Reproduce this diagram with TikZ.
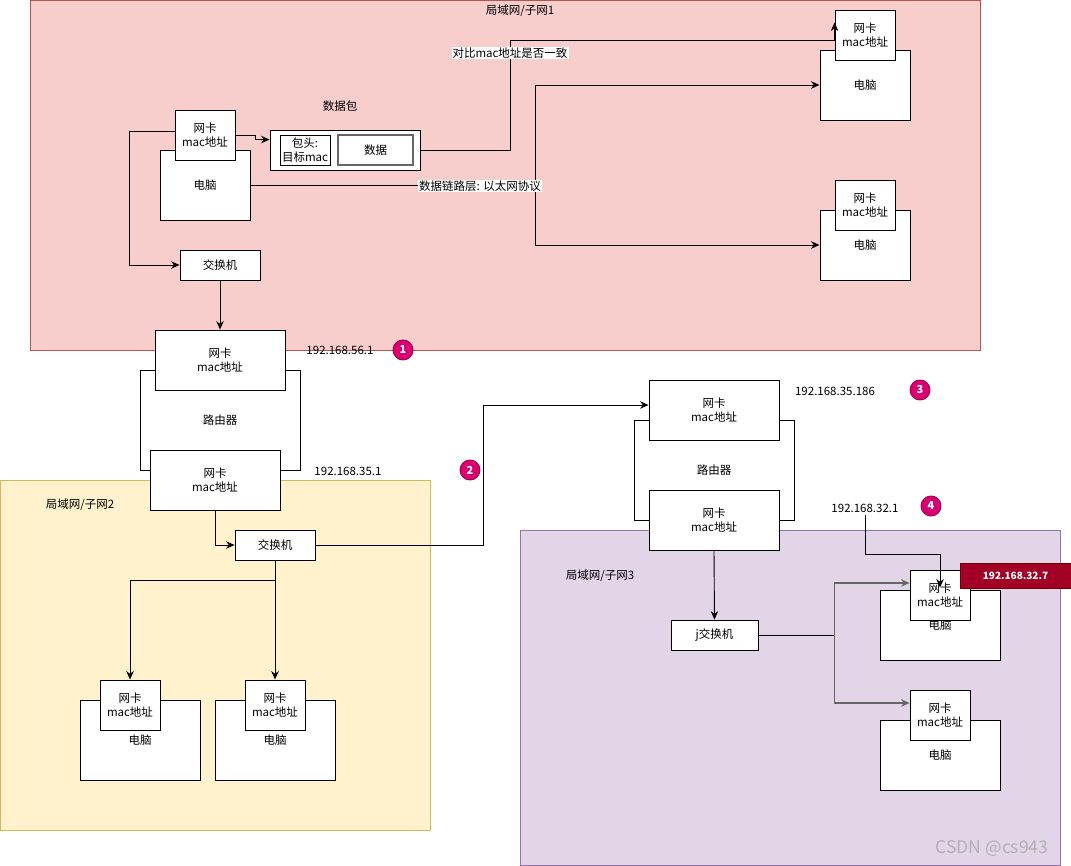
\documentclass[tikz,border=0pt]{standalone}
\usepackage{fontspec}
\setmainfont{Noto Sans CJK SC}
\usepackage{xcolor}
\usepackage{tikz}
\usetikzlibrary{arrows.meta, positioning, calc}

\definecolor{lanred}{HTML}{F8CECC}
\definecolor{lanredline}{HTML}{B85450}
\definecolor{lanyellow}{HTML}{FFF2CC}
\definecolor{lanyellowline}{HTML}{D6B656}
\definecolor{lanpurple}{HTML}{E1D5E7}
\definecolor{lanpurpleline}{HTML}{9673A6}
\definecolor{badgefill}{HTML}{D80073}
\definecolor{badgeline}{HTML}{A50040}
\definecolor{ipfill}{HTML}{A20025}
\definecolor{ipline}{HTML}{6F0000}
\definecolor{linkgray}{HTML}{666666}

\begin{document}
\begin{tikzpicture}[x=1pt, y=-1pt, line width=0.9pt,
    font=\fontsize{11.5}{14}\selectfont,
    >={Stealth[length=8.5pt, width=7.5pt]}]

  \useasboundingbox (0,0) rectangle (1071,866);

  \tikzset{
    txt/.style={inner sep=2pt},
    tag/.style={fill=white, inner sep=1pt},
    box/.style={draw, fill=white, align=center, inner sep=1pt},
    pcbox/.style={box, minimum width=90pt, minimum height=70pt},
    nic/.style={box, minimum width=60pt, minimum height=50pt},
    rnic/.style={box, minimum width=130pt, minimum height=60pt},
    router/.style={box, minimum width=160pt, minimum height=100pt},
    swbox/.style={box, minimum width=80pt, minimum height=30pt},
    badge/.style={circle, fill=badgefill, draw=badgeline, text=white,
      font=\fontsize{11}{12}\selectfont\bfseries, minimum size=20pt, inner sep=0pt},
    ipbox/.style={fill=ipfill, draw=ipline, text=white, font=\bfseries,
      minimum width=111pt, minimum height=25pt, inner sep=0pt},
    link/.style={->, draw=linkgray, line width=1.4pt}
  }

  %% Subnets
  \draw[fill=lanred, draw=lanredline] (30,0) rectangle (980,350);
  \draw[fill=lanyellow, draw=lanyellowline] (0,480) rectangle (430,830);
  \draw[fill=lanpurple, draw=lanpurpleline] (520,530) rectangle (1060,865);
  \node[txt] (lan1) at (520,11) {局域网/子网1};
  \node[txt] (lan2) at (80,505) {局域网/子网2};
  \node[txt] (lan3) at (600,576) {局域网/子网3};

  %% Computers (body first, network card on top)
  \foreach \n/\x/\y/\w/\h/\cx/\cy in {
    A/205/185/90/70/205/135,
    1/865/85/90/70/865/35,
    2/865/245/90/70/865/205,
    B1/140/740/120/80/130/705,
    B2/275/740/120/80/275/705,
    C1/940/625/120/70/940/595,
    C2/940/755/120/70/940/715
  }{
    \node[pcbox, minimum width=\w pt, minimum height=\h pt] (pc\n) at (\x,\y) {电脑};
    \node[nic] (nic\n) at (\cx,\cy) {网卡\\mac地址};
  }

  %% Data packet
  \node[txt] (pktname) at (340,106) {数据包};
  \node[box, minimum width=150pt, minimum height=40pt] (pkt) at (345,150) {};
  \node[box, minimum width=50pt, minimum height=30pt, inner sep=0pt] (pkthead) at (305,150) {包头:\\目标mac};
  \node[box, draw=black!60, line width=1.4pt, minimum width=75pt, minimum height=30pt] (pktdata) at (375.5,150) {数据};

  %% Switches
  \node[swbox] (swA) at (220,265) {交换机};
  \node[swbox] (swB) at (275,545) {交换机};
  \node[swbox, minimum width=87pt] (swC) at (714.5,635) {j交换机};

  %% Routers
  \node[router] (r1) at (220,420) {路由器};
  \node[rnic] (r1top) at (220,360) {网卡\\mac地址};
  \node[rnic] (r1bot) at (215,480) {网卡\\mac地址};
  \node[router] (r2) at (714,470) {路由器};
  \node[rnic] (r2top) at (714,410) {网卡\\mac地址};
  \node[rnic] (r2bot) at (714,520) {网卡\\mac地址};

  %% Addresses and steps
  \foreach \n/\x/\y/\ip in {1/340/350/192.168.56.1, 2/348/471/192.168.35.1,
                            3/835/391/192.168.35.186, 4/865/508/192.168.32.1}{
    \node[txt] (ip\n) at (\x,\y) {\ip};
  }
  \foreach \n/\x/\y in {1/403/350, 2/470/470, 3/920/390, 4/931/506}{
    \node[badge] (badge\n) at (\x,\y) {\n};
  }

  %% Links in subnet 1
  \draw[->] (nicA.east) -- ++(20,0) |- ($(pkt.north west)+(0,10)$);
  \draw[->] (pkt.east) -- ++(90,0) |- ($(nic1.south west)+(0,-20)$)
    -- ($(nic1.north west)+(0,13)$);
  \draw[->] (pcA.east) -- ++(285,0) |- (pc1.west);
  \draw[->] (pcA.east) -- ++(285,0) |- (pc2.west);
  \draw[->] ($(nicA.west)+(0,-4)$) -- ++(-45,0) |- (swA.west);
  \draw[->] (swA.south) -- (r1top.north);
  \node[tag] (cmp) at (510,53) {对比mac地址是否一致};
  \node[tag] (dll) at (480,186) {数据链路层: 以太网协议};

  %% Links in subnet 2
  \draw[->] (r1bot.south) |- (swB.west);
  \draw[->] (swB.south) -- (nicB2.north);
  \draw[->] (swB.south) -- ++(0,20) -| (nicB1.north);
  \draw[->] (swB.east) -- ++(168,0) |- ($(r2top.west)+(0,-5)$);

  %% Links in subnet 3
  \draw[->] (r2bot.south) -- (swC.north);
  \coordinate (hubC) at ($(swC.east)+(76,0)$);
  \draw[link] (hubC) |- ($(nicC1.west)+(0,-12)$);
  \draw[link] (hubC) |- ($(nicC2.west)+(0,-12)$);
  \draw (swC.east) -- (hubC);
  \draw[->] (ip4.south) -- ++(0,40) -| ($(nicC1.north)+(0,18)$);
  \node[ipbox] (ipC1) at (1015.5,575.5) {192.168.32.7};

  \node[text=gray!60, font=\fontsize{17.5}{19}\selectfont] (mark) at (992,848) {CSDN @cs943};

\end{tikzpicture}
\end{document}
